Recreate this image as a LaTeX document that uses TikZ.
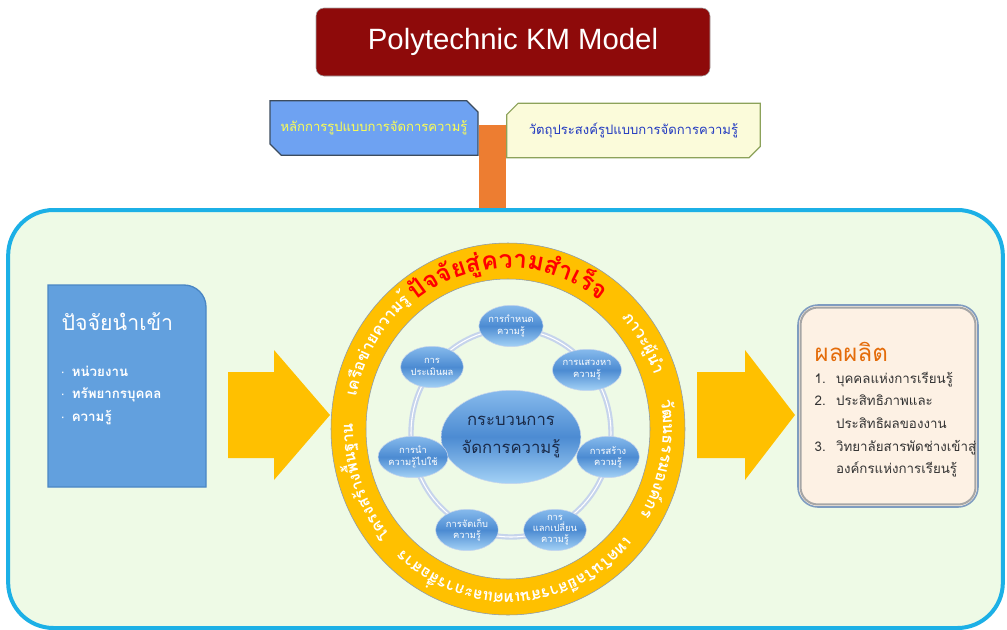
\documentclass[tikz,border=0pt]{standalone}
\usepackage{fontspec}
\setmainfont{Liberation Sans}
\newfontfamily\thai[Script=Thai]{Loma}
\usetikzlibrary{shapes.misc,shapes.geometric,decorations.text,calc}

\definecolor{kmmaroon}{HTML}{8E0A0A}
\definecolor{kmorange}{HTML}{ED7D31}
\definecolor{kmgold}{HTML}{FFC000}
\definecolor{kmframe}{HTML}{1CB0E6}
\definecolor{kmpaper}{HTML}{EEFAE6}
\definecolor{kmblue}{HTML}{62A0DE}
\definecolor{kmblueline}{HTML}{4A86C4}
\definecolor{kmsky}{HTML}{6EA2F2}
\definecolor{kmskyline}{HTML}{3C4C5E}
\definecolor{kmcream}{HTML}{FBFBDA}
\definecolor{kmcreamline}{HTML}{8CA25A}
\definecolor{kmpeach}{HTML}{FDF1E4}
\definecolor{kmpeachline}{HTML}{7F9CC0}
\definecolor{kmring}{HTML}{C6D4EC}
\definecolor{kmrim}{HTML}{8898B0}
\definecolor{kmtop}{HTML}{86BAEC}
\definecolor{kmmid}{HTML}{4C8BD2}
\definecolor{kmbottom}{HTML}{A4D2F6}
\definecolor{kmnavy}{HTML}{1A2A48}
\definecolor{kmoutput}{HTML}{E46C0A}
\definecolor{kmtitleyellow}{HTML}{FFFF50}
\definecolor{kmtitleblue}{HTML}{2038C0}

\newcommand{\kmdot}{{\normalfont\textperiodcentered}\hspace{5pt}}
\newcommand{\kmnum}[1]{\makebox[16pt][l]{#1}}

\tikzset{
  kmchamfer/.style={chamfered rectangle, chamfered rectangle xsep=5pt,
    minimum height=41pt, inner sep=0pt, line width=0.9pt,
    font=\thai\fontsize{9.8}{12}\selectfont},
  kmstep/.style={ellipse, minimum width=47pt, minimum height=31pt, inner sep=0pt,
    draw=kmring, top color=kmtop, bottom color=kmbottom, middle color=kmmid,
    text=white, align=center, font=\thai\fontsize{7}{8.5}\selectfont},
  kmcore/.style={kmstep, minimum width=93pt, minimum height=70pt, text=kmnavy,
    font=\thai\fontsize{12.5}{21}\selectfont},
  kmarrow/.style={fill=kmgold},
  ringtext/.style={decorate, decoration={text along path, text align=center,
    text color=white, text={|\thai\bfseries\fontsize{12}{12}\selectfont|#1}}},
}

\begin{document}
\begin{tikzpicture}[x=0.75pt,y=-0.75pt]
\useasboundingbox[fill=white] (0,0) rectangle (1007,629);

% title and the two header boxes
\node[draw=gray!70, fill=kmmaroon, rounded corners=6pt, minimum width=295.5pt,
  minimum height=51pt, text=white, font=\fontsize{22}{26}\selectfont]
  (title) at (513,42) {Polytechnic KM Model};

\node[kmchamfer, chamfered rectangle corners={north east,south west},
  minimum width=156pt, draw=kmskyline, fill=kmsky, text=kmtitleyellow]
  (principle) at (374,128) {หลักการรูปแบบการจัดการความรู้};
\node[kmchamfer, chamfered rectangle corners={north west,south east},
  minimum width=190pt, draw=kmcreamline, fill=kmcream, text=kmtitleblue]
  (objective) at (633.5,130.5) {วัตถุประสงค์รูปแบบการจัดการความรู้};

% big frame
\node[draw=kmframe, line width=3pt, fill=kmpaper, rounded corners=34pt,
  minimum width=746pt, minimum height=313.5pt] (frame) at (505.5,419) {};

% orange connector
\coordinate (tee) at ($(principle.east)!0.5!(principle.east -| objective.west)$);
\draw[kmorange, line width=5pt] (principle.east) -- (principle.east -| objective.west);
\draw[kmorange, line width=20pt] ([yshift=2.5pt]tee) -- (tee |- frame.north);

% input box
\draw[kmblueline, fill=kmblue, line width=1pt] (48,487) -- (48,285) -- (184,285)
  arc[start angle=-90, end angle=0, radius=22] -- (206,487) -- cycle;
\node[anchor=west, text=white, font=\thai\fontsize{16}{18}\selectfont]
  (intitle) at (57,322) {ปัจจัยนำเข้า};
\node[anchor=north west, text=white, align=left,
  font=\thai\bfseries\fontsize{10}{17}\selectfont] (inlist) at (56,361)
  {\kmdot หน่วยงาน\\ \kmdot ทรัพยากรบุคคล\\ \kmdot ความรู้};

% output box
\node[draw=kmpeachline, line width=1.2pt, fill=kmpeach, rounded corners=15pt,
  minimum width=135pt, minimum height=151.5pt] (outbox) at (888,406) {};
\draw[gray!70, line width=1.5pt, rounded corners=13pt]
  ([shift={(2.5pt,2.5pt)}]outbox.south west) rectangle ([shift={(-2.5pt,-2.5pt)}]outbox.north east);
\node[anchor=west, text=kmoutput, font=\thai\fontsize{18}{20}\selectfont]
  (outtitle) at (810,352) {ผลผลิต};
\node[anchor=north west, align=left, text=black!80,
  font=\thai\fontsize{10}{17}\selectfont] (outlist) at (810,367)
  {\kmnum{1.}บุคคลแห่งการเรียนรู้\\ \kmnum{2.}ประสิทธิภาพและ\\ \kmnum{}ประสิทธิผลของงาน\\
   \kmnum{3.}วิทยาลัยสารพัดช่างเข้าสู่\\ \kmnum{}องค์กรแห่งการเรียนรู้};

% block arrows
\fill[kmarrow] (228,372) -- (274,372) -- (274,350) -- (330,415) -- (274,480)
  -- (274,458) -- (228,458) -- cycle;
\fill[kmarrow] (697,372) -- (745,372) -- (745,350) -- (795,415) -- (745,480)
  -- (745,458) -- (697,458) -- cycle;

% success factor ring
\begin{scope}[shift={(508,429)}, y=0.75pt]
  \fill[kmgold, draw=kmrim, even odd rule] (0,0) ellipse[x radius=177, y radius=186]
    (0,0) ellipse[x radius=142, y radius=150];
  \path[decorate, decoration={text along path, text align=center, text color=red,
    text={|\thai\bfseries\fontsize{18.5}{18.5}\selectfont|{ปั}{จ}{จั}{ย}{สู่}{ค}{ว}{า}{ม}{สำ}{เ}{ร็}{จ}}}]
    (150:152 and 161) arc[start angle=150, end angle=30, x radius=152, y radius=161];
  \path[ringtext={{ภ}{า}{ว}{ะ}{ผู้}{นำ}}]
    (66:155 and 164) arc[start angle=66, end angle=-3, x radius=155, y radius=164];
  \path[ringtext={{วั}{ฒ}{น}{ธ}{ร}{ร}{ม}{อ}{ง}{ค์}{ก}{ร}}]
    (34:155 and 164) arc[start angle=34, end angle=-56, x radius=155, y radius=164];
  \path[ringtext={{เ}{ท}{ค}{โ}{น}{โ}{ล}{ยี}{ส}{า}{ร}{ส}{น}{เ}{ท}{ศ}{แ}{ล}{ะ}{ก}{า}{ร}{สื่}{อ}{ส}{า}{ร}}]
    (-22:155 and 164) arc[start angle=-22, end angle=-152, x radius=155, y radius=164];
  \path[ringtext={{โ}{ค}{ร}{ง}{ส}{ร้}{า}{ง}{พื้}{น}{ฐ}{า}{น}}]
    (237:155 and 164) arc[start angle=237, end angle=162, x radius=155, y radius=164];
  \path[ringtext={{เ}{ค}{รื}{อ}{ข่}{า}{ย}{ค}{ว}{า}{ม}{รู้}}]
    (184:155 and 164) arc[start angle=184, end angle=113, x radius=155, y radius=164];
\end{scope}

% knowledge process cycle
\draw[kmring, line width=4pt] (511,433) ellipse[x radius=100, y radius=104];
\draw[white, line width=0.8pt] (511,433) ellipse[x radius=100, y radius=104];
\node[kmcore] (core) at (511,437) {กระบวนการ\\จัดการความรู้};
\node[kmstep] (define) at (511,326) {การกำหนด\\ความรู้};
\node[kmstep] (seek) at (587,370) {การแสวงหา\\ความรู้};
\node[kmstep] (create) at (608,457) {การสร้าง\\ความรู้};
\node[kmstep, inner sep=-4pt] (share) at (555,530) {การ\\แลกเปลี่ยน\\ความรู้};
\node[kmstep] (store) at (467,530) {การจัดเก็บ\\ความรู้};
\node[kmstep] (apply) at (413,457) {การนำ\\ความรู้ไปใช้};
\node[kmstep] (assess) at (432,367) {การ\\ประเมินผล};
\end{tikzpicture}
\end{document}
